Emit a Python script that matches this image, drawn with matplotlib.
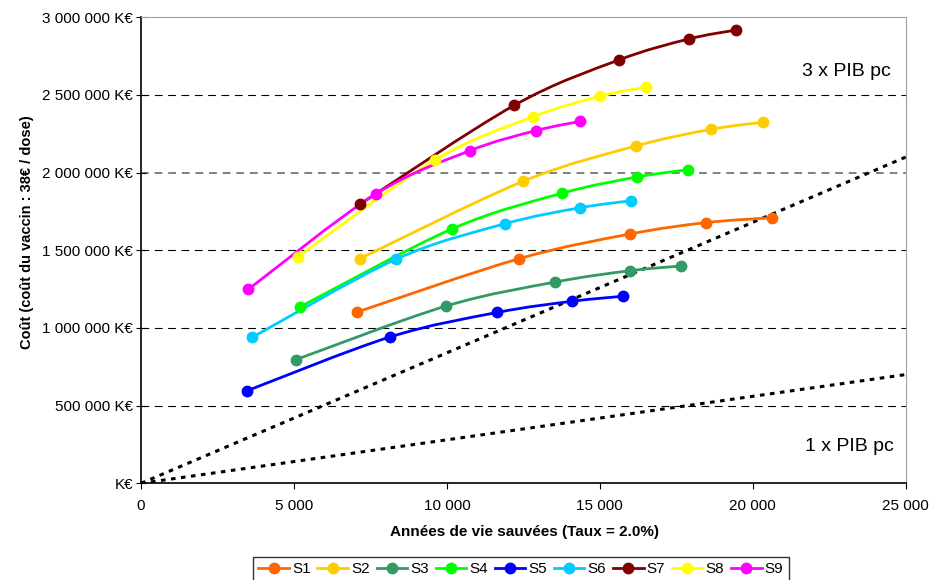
"""
Cost vs life-years saved, scenarios S1..S9 with 1x / 3x GDP per capita thresholds.
"""

import matplotlib
matplotlib.use("Agg")
import matplotlib.pyplot as plt
from matplotlib.path import Path
from matplotlib.patches import PathPatch
from matplotlib.lines import Line2D
from matplotlib.ticker import FuncFormatter, MultipleLocator

plt.rcParams["font.family"] = ["Liberation Sans", "DejaVu Sans"]

# years of life saved (x) and cost in K€ (y)
series_names = ["S1", "S2", "S3", "S4", "S5", "S6", "S7", "S8", "S9"]
series_colors = ["#FF6600", "#FFCC00", "#339966", "#00FF00", "#0000FF",
                 "#00CCFF", "#800000", "#FFFF00", "#FF00FF"]

s1_x = [7070, 12360, 15990, 18460, 20640]
s1_y = [1103000, 1446000, 1605000, 1678000, 1710000]
s2_x = [7150, 12490, 16170, 18640, 20330]
s2_y = [1446000, 1944000, 2171000, 2279000, 2324000]
s3_x = [5060, 9970, 13550, 16000, 17660]
s3_y = [796000, 1141000, 1296000, 1369000, 1399000]
s4_x = [5210, 10160, 13760, 16220, 17890]
s4_y = [1137000, 1637000, 1867000, 1972000, 2019000]
s5_x = [3470, 8140, 11650, 14100, 15750]
s5_y = [596000, 942000, 1100000, 1172000, 1204000]
s6_x = [3640, 8330, 11900, 14360, 16010]
s6_y = [940000, 1442000, 1671000, 1774000, 1819000]
s7_x = [7150, 12200, 15620, 17900, 19450]
s7_y = [1796000, 2433000, 2725000, 2860000, 2918000]
s8_x = [5130, 9610, 12820, 15000, 16500]
s8_y = [1459000, 2081000, 2360000, 2491000, 2551000]
s9_x = [3510, 7670, 10750, 12900, 14360]
s9_y = [1249000, 1862000, 2141000, 2270000, 2330000]

series_x = [s1_x, s2_x, s3_x, s4_x, s5_x, s6_x, s7_x, s8_x, s9_x]
series_y = [s1_y, s2_y, s3_y, s4_y, s5_y, s6_y, s7_y, s8_y, s9_y]

# thresholds: cost = multiple * GDP per capita (K€) * years
pib_pc = 28
pib_multiples = [3, 1]
pib_labels = ["3 x PIB pc", "1 x PIB pc"]
threshold_x = [0, 25000]


def smooth_path(xs, ys):
    """Excel-like smoothed line: cubic Bezier segments through each point."""
    pts = list(zip(xs, ys))
    verts = [pts[0]]
    codes = [Path.MOVETO]
    n = len(pts)
    for i in range(n - 1):
        p0 = pts[i - 1] if i > 0 else pts[i]
        p1 = pts[i]
        p2 = pts[i + 1]
        p3 = pts[i + 2] if i + 2 < n else pts[i + 1]
        c1 = (p1[0] + (p2[0] - p0[0]) / 6, p1[1] + (p2[1] - p0[1]) / 6)
        c2 = (p2[0] - (p3[0] - p1[0]) / 6, p2[1] - (p3[1] - p1[1]) / 6)
        verts += [c1, c2, p2]
        codes += [Path.CURVE4] * 3
    return Path(verts, codes)


fig = plt.figure(figsize=(9.32, 5.8), dpi=100)
ax = fig.add_axes([0.1513, 0.1667, 0.8205, 0.8035])

ax.set_xlim(0, 25000)
ax.set_ylim(0, 3000000)

# horizontal dashed gridlines
for v in [500000, 1000000, 1500000, 2000000, 2500000]:
    if v == 2000000:
        ax.axhline(v, color="#808080", lw=1.4, linestyle=(0, (4, 3)), zorder=1)
    else:
        ax.axhline(v, color="black", lw=0.8, linestyle=(0, (7, 5)), zorder=1)

# GDP thresholds
for m in pib_multiples:
    ax.plot(threshold_x, [m * pib_pc * x for x in threshold_x], color="black",
            lw=2.2, linestyle=(0, (1.5, 1.8)), zorder=2)

ax.text(0.98, 0.883, pib_labels[0], transform=ax.transAxes, ha="right",
        va="center", fontsize=14)
ax.text(0.985, 0.078, pib_labels[1], transform=ax.transAxes, ha="right",
        va="center", fontsize=14)

handles = []
for name, color, xs, ys in zip(series_names, series_colors, series_x, series_y):
    patch = PathPatch(smooth_path(xs, ys), facecolor="none", edgecolor=color,
                      lw=2.0, zorder=3)
    ax.add_patch(patch)
    ax.plot(xs, ys, linestyle="none", marker="o", markersize=7.5,
            color=color, zorder=4)
    handles.append(Line2D([], [], color=color, lw=2.0, marker="o",
                          markersize=7.5, label=name))

# axes styling
ax.spines["top"].set_color("#A0A0A0")
ax.spines["right"].set_color("#A0A0A0")
ax.spines["left"].set_color("black")
ax.spines["bottom"].set_color("black")
ax.spines["left"].set_linewidth(1.2)
ax.spines["bottom"].set_linewidth(1.2)

ax.xaxis.set_major_locator(MultipleLocator(5000))
ax.yaxis.set_major_locator(MultipleLocator(500000))
ax.xaxis.set_major_formatter(
    FuncFormatter(lambda v, p: f"{v:,.0f}".replace(",", " ")))
ax.yaxis.set_major_formatter(
    FuncFormatter(lambda v, p: "K€" if v == 0 else f"{v:,.0f}".replace(",", " ") + " K€"))
ax.tick_params(axis="x", direction="out", length=4, labelsize=11, pad=7)
ax.tick_params(axis="y", direction="inout", length=7, labelsize=11, pad=2)

ax.set_xlabel("Années de vie sauvées (Taux = 2.0%)", fontsize=11,
              fontweight="bold")
ax.set_ylabel("Coût (coût du vaccin : 38€ / dose)", fontsize=10.5,
              fontweight="bold")
ax.xaxis.set_label_coords(0.501, -0.089)
ax.yaxis.set_label_coords(-0.14, 0.54)

leg = fig.legend(handles=handles, loc="upper left",
                 bbox_to_anchor=(253 / 932, 1 - 557 / 580), ncol=9,
                 fontsize=11, frameon=True, fancybox=False,
                 edgecolor="black", handlelength=2.0, handletextpad=0.2,
                 columnspacing=0.45, borderpad=0.35, borderaxespad=0)
leg.get_frame().set_linewidth(1.0)

fig.savefig("out.png", dpi=100)
